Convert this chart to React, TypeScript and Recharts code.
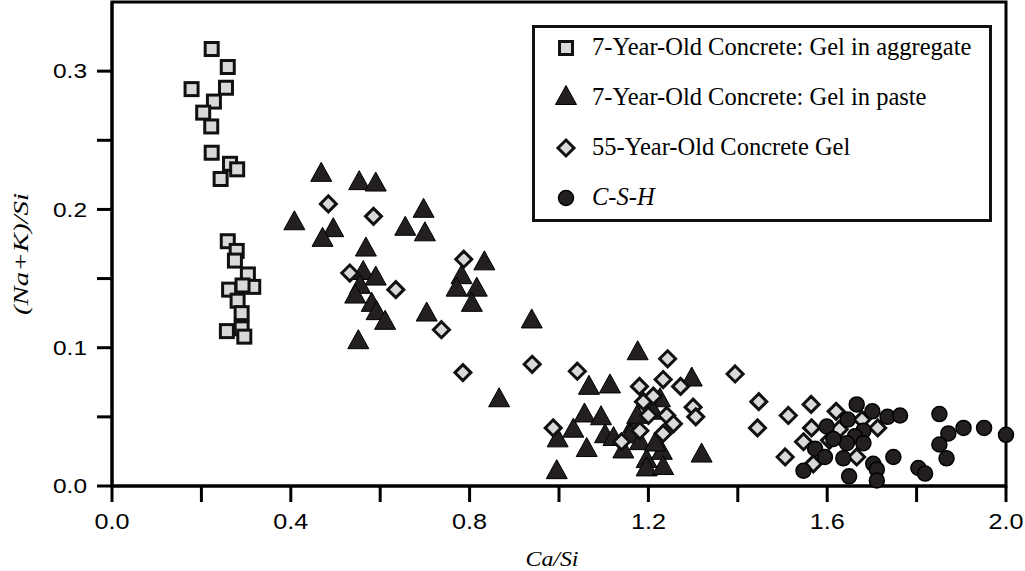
import { ScatterChart, Scatter, XAxis, YAxis, ReferenceArea, Legend, Label } from 'recharts';

type Pt = [number, number];

const xTicks = [0, 0.2, 0.4, 0.6, 0.8, 1.0, 1.2, 1.4, 1.6, 1.8, 2.0];
const yTicks = [0, 0.05, 0.1, 0.15, 0.2, 0.25, 0.3];

// 7-year-old concrete, gel in aggregate
const gelAggregate: Pt[] = [
	[0.223, 0.316], [0.259, 0.303], [0.178, 0.287], [0.255, 0.288], [0.228, 0.278],
	[0.204, 0.27], [0.222, 0.26], [0.223, 0.241], [0.264, 0.233], [0.28, 0.229],
	[0.243, 0.222], [0.259, 0.177], [0.279, 0.17], [0.275, 0.163], [0.304, 0.153],
	[0.316, 0.144], [0.292, 0.145], [0.262, 0.142], [0.281, 0.134], [0.29, 0.125],
	[0.257, 0.112], [0.29, 0.114], [0.296, 0.108],
];

// 7-year-old concrete, gel in paste
const gelPaste: Pt[] = [
	[0.468, 0.225], [0.553, 0.219], [0.59, 0.218], [0.408, 0.19], [0.495, 0.185],
	[0.471, 0.178], [0.697, 0.199], [0.656, 0.186], [0.7, 0.182], [0.568, 0.171],
	[0.562, 0.154], [0.59, 0.15], [0.555, 0.144], [0.544, 0.137], [0.581, 0.131],
	[0.592, 0.125], [0.611, 0.118], [0.551, 0.104], [0.833, 0.161], [0.782, 0.151],
	[0.771, 0.142], [0.816, 0.142], [0.805, 0.131], [0.704, 0.124], [0.939, 0.119],
	[1.176, 0.096], [0.866, 0.062], [1.067, 0.071], [1.114, 0.072], [1.297, 0.077],
	[1.057, 0.051], [1.094, 0.049], [1.032, 0.04], [1.103, 0.036], [1.122, 0.034],
	[0.997, 0.033], [1.062, 0.026], [0.995, 0.01], [1.166, 0.043], [1.159, 0.036],
	[1.144, 0.025], [1.181, 0.031], [1.196, 0.018], [1.196, 0.012], [1.23, 0.024],
	[1.233, 0.013], [1.226, 0.062], [1.211, 0.053], [1.319, 0.022], [1.175, 0.05],
	[1.215, 0.03],
];

// 55-year-old concrete gel
const gelOld: Pt[] = [
	[0.484, 0.204], [0.585, 0.195], [0.532, 0.154], [0.635, 0.142], [0.787, 0.164],
	[0.737, 0.113], [0.785, 0.082], [0.94, 0.088], [1.041, 0.083], [1.243, 0.092],
	[1.233, 0.077], [1.18, 0.072], [1.272, 0.072], [1.189, 0.061], [1.211, 0.065],
	[1.2, 0.051], [1.241, 0.051], [1.256, 0.045], [1.233, 0.038], [1.181, 0.04],
	[1.14, 0.032], [1.3, 0.057], [1.306, 0.05], [0.987, 0.042], [1.394, 0.081],
	[1.447, 0.061], [1.444, 0.042], [1.513, 0.051], [1.564, 0.059], [1.506, 0.021],
	[1.565, 0.042], [1.547, 0.032], [1.62, 0.054], [1.605, 0.033], [1.569, 0.016],
	[1.627, 0.041], [1.678, 0.048], [1.713, 0.042], [1.666, 0.021],
];

// C-S-H
const csh: Pt[] = [
	[1.666, 0.059], [1.701, 0.054], [1.735, 0.05], [1.763, 0.051], [1.646, 0.048],
	[1.599, 0.043], [1.681, 0.04], [1.662, 0.036], [1.644, 0.031], [1.681, 0.031],
	[1.573, 0.027], [1.595, 0.021], [1.636, 0.02], [1.547, 0.011], [1.703, 0.016],
	[1.711, 0.012], [1.748, 0.021], [1.649, 0.007], [1.711, 0.004], [1.804, 0.013],
	[1.819, 0.009], [1.851, 0.052], [1.871, 0.038], [1.905, 0.042], [1.851, 0.03],
	[1.867, 0.02], [1.951, 0.042], [2.0, 0.037], [1.614, 0.034],
];

const toPoints = (arr: Pt[]) => arr.map(([x, y]) => ({ x, y }));

const DARK = '#231f20';
const LIGHT = '#d9d9d9';

const SquareMark = ({ cx, cy }: any) => (
	<rect x={cx - 6.5} y={cy - 6.5} width={13} height={13} fill={LIGHT} stroke="#111" strokeWidth={3} />
);
const TriangleMark = ({ cx, cy }: any) => (
	<polygon points={`${cx},${cy - 12.5} ${cx + 10.5},${cy + 6.5} ${cx - 10.5},${cy + 6.5}`} fill={DARK} stroke="#000" strokeWidth={1} />
);
const DiamondMark = ({ cx, cy }: any) => (
	<polygon points={`${cx},${cy - 8} ${cx + 8},${cy} ${cx},${cy + 8} ${cx - 8},${cy}`} fill={LIGHT} stroke="#111" strokeWidth={3} />
);
const CircleMark = ({ cx, cy }: any) => (
	<circle cx={cx} cy={cy} r={7.5} fill={DARK} stroke="#000" strokeWidth={1.5} />
);

const series = [
	{ name: '7-Year-Old Concrete: Gel in aggregate', data: gelAggregate, shape: SquareMark, italic: false },
	{ name: '7-Year-Old Concrete: Gel in paste', data: gelPaste, shape: TriangleMark, italic: false },
	{ name: '55-Year-Old Concrete Gel', data: gelOld, shape: DiamondMark, italic: false },
	{ name: 'C-S-H', data: csh, shape: CircleMark, italic: true },
];

const SANS = '"Liberation Sans", Arial, sans-serif';
const SERIF = '"Liberation Serif", "Times New Roman", serif';

const XTick = ({ x, y, payload }: any) => {
	const v = payload.value as number;
	if (Math.round(v * 10) % 4 !== 0) return null;
	return (
		<text x={x} y={y} dy="0.71em" textAnchor="middle" fontFamily={SANS} fontSize={22} fill="#000" textLength={35} lengthAdjust="spacingAndGlyphs">
			{v.toFixed(1)}
		</text>
	);
};

const YTick = ({ x, y, payload }: any) => {
	const v = payload.value as number;
	if (Math.round(v * 100) % 10 !== 0) return null;
	return (
		<text x={x} y={y} dy="0.36em" textAnchor="end" fontFamily={SANS} fontSize={20} fill="#000" textLength={34} lengthAdjust="spacingAndGlyphs">
			{v.toFixed(1)}
		</text>
	);
};

const LegendBox = () => (
	<div
		style={{
			boxSizing: 'border-box',
			width: 460,
			height: 197,
			border: '3px solid #111',
			background: '#fff',
			fontFamily: SERIF,
			fontSize: 24.5,
			color: '#000',
		}}
	>
		{series.map((s, i) => {
			const Mark = s.shape;
			return (
				<div key={s.name} style={{ position: 'absolute', left: 22, top: 7 + i * 50, height: 30, display: 'flex', alignItems: 'center' }}>
					<svg width={24} height={24} style={{ marginRight: 14 }}>
						<Mark cx={12} cy={13} />
					</svg>
					<span style={{ fontStyle: s.italic ? 'italic' : 'normal', whiteSpace: 'nowrap' }}>{s.name}</span>
				</div>
			);
		})}
	</div>
);

export default function App() {
	return (
		<div style={{ position: 'absolute', left: 0, top: 0, background: '#fff' }}>
			<ScatterChart width={1025} height={571} margin={{ top: 2, right: 19, bottom: 0, left: 0 }}>
				<XAxis
					type="number"
					dataKey="x"
					domain={[0, 2]}
					ticks={xTicks}
					interval={0}
					height={85}
					tickSize={16}
					tickMargin={11}
					tick={<XTick />}
					axisLine={{ stroke: '#000', strokeWidth: 3 }}
					tickLine={{ stroke: '#000', strokeWidth: 3 }}
				>
					<Label
						content={() => (
							<text x={552} y={566} textAnchor="middle" fontFamily={SERIF} fontStyle="italic" fontSize={22} fill="#000" textLength={53} lengthAdjust="spacingAndGlyphs">
								Ca/Si
							</text>
						)}
					/>
				</XAxis>
				<YAxis
					type="number"
					dataKey="y"
					domain={[0, 0.35]}
					ticks={yTicks}
					interval={0}
					width={112}
					tickSize={15}
					tickMargin={10}
					tick={<YTick />}
					axisLine={{ stroke: '#000', strokeWidth: 3 }}
					tickLine={{ stroke: '#000', strokeWidth: 3 }}
				>
					<Label
						content={() => (
							<text x={28} y={254} transform="rotate(-90 28 254)" textAnchor="middle" fontFamily={SERIF} fontStyle="italic" fontSize={22} fill="#000" textLength={122} lengthAdjust="spacingAndGlyphs">
								(Na+K)/Si
							</text>
						)}
					/>
				</YAxis>
				<ReferenceArea x1={0} x2={2} y1={0} y2={0.35} fill="#fff" fillOpacity={0} stroke="#000" strokeWidth={3} />
				<Legend
					layout="vertical"
					align="center"
					verticalAlign="middle"
					content={<LegendBox />}
					wrapperStyle={{ left: 532, top: 25, width: 460, height: 197 }}
				/>
				{series.map((s) => (
					<Scatter key={s.name} name={s.name} data={toPoints(s.data)} shape={<s.shape />} isAnimationActive={false} />
				))}
			</ScatterChart>
		</div>
	);
}
